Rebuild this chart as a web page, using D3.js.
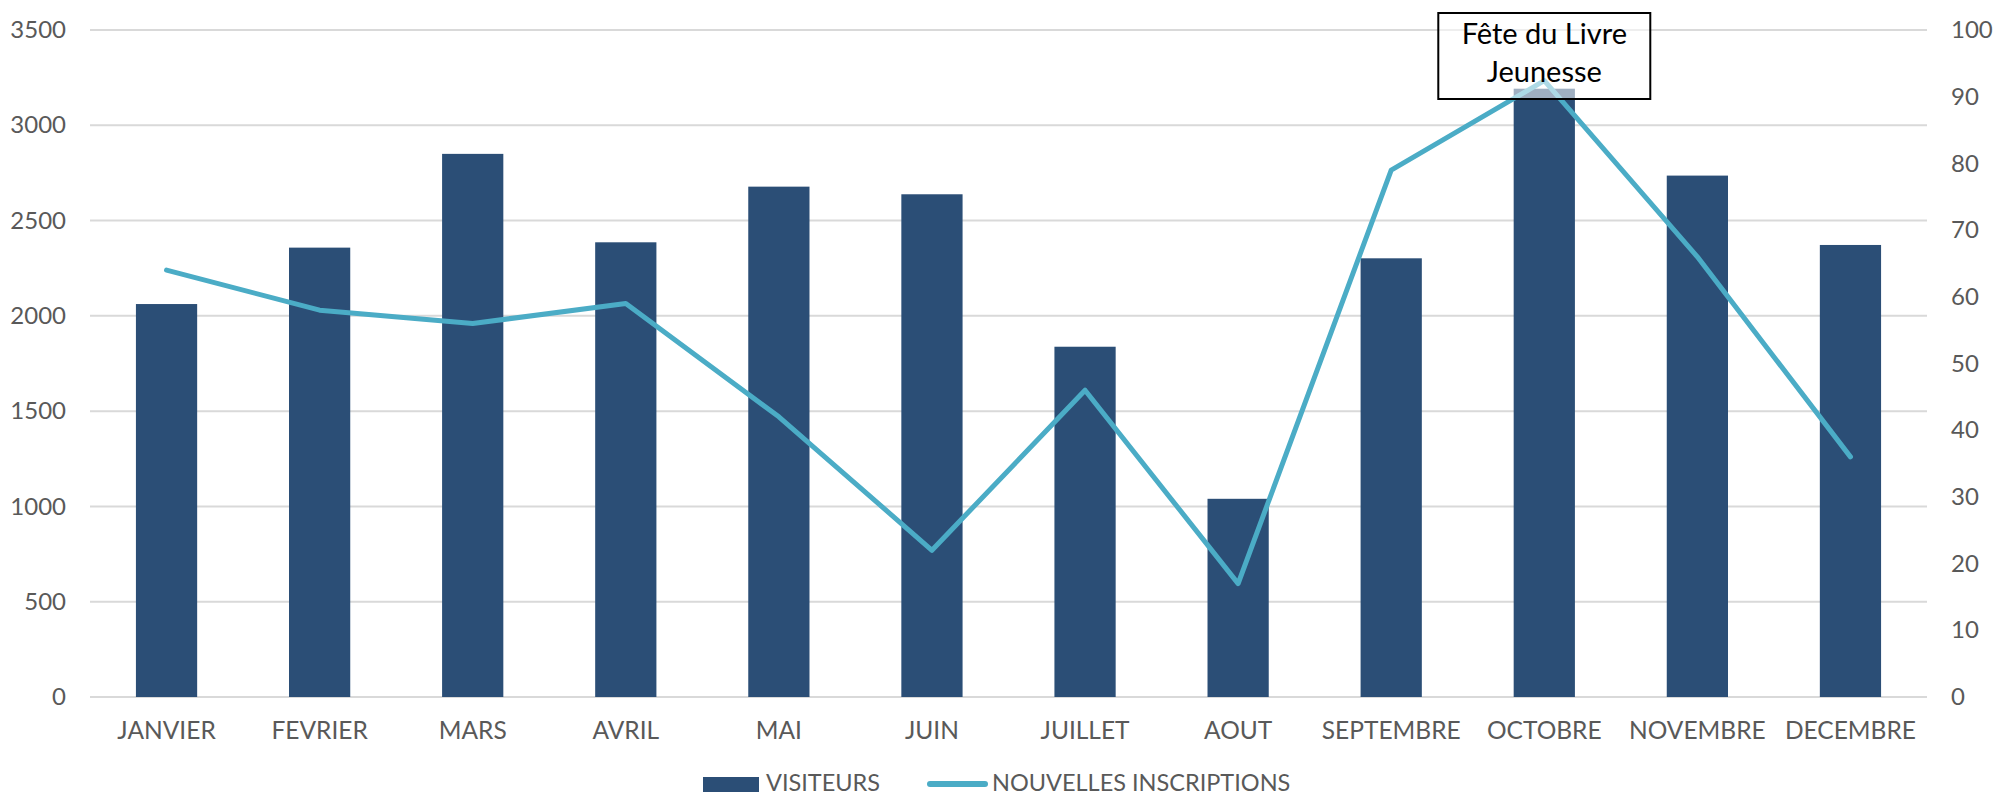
<!DOCTYPE html>
<html><head><meta charset="utf-8">
<script src="https://cdn.jsdelivr.net/npm/d3@7"></script>
<style>
html,body{margin:0;padding:0;background:#fff;}
svg{display:block;}
text{font-family:Lato, "Open Sans", sans-serif;}
</style></head>
<body>
<svg id="chart" width="1995" height="796"></svg>
<script>
const months = ["JANVIER","FEVRIER","MARS","AVRIL","MAI","JUIN","JUILLET","AOUT","SEPTEMBRE","OCTOBRE","NOVEMBRE","DECEMBRE"];
const visiteurs = [2062, 2358, 2850, 2386, 2678, 2638, 1838, 1040, 2302, 3192, 2736, 2372];
const inscriptions = [64, 58, 56, 59, 42, 22, 46, 17, 79, 92.4, 66, 36];
const leftTicks = [0, 500, 1000, 1500, 2000, 2500, 3000, 3500];
const rightTicks = [0, 10, 20, 30, 40, 50, 60, 70, 80, 90, 100];
const seriesNames = ["VISITEURS", "NOUVELLES INSCRIPTIONS"];
const annotationLines = ["Fête du Livre", "Jeunesse"];
const annotationMonth = "OCTOBRE";

const barColor = "#2B4E76", lineColor = "#4BACC6", textColor = "#595959";
const svg = d3.select("#chart");
const pLeft = 90, pRight = 1927, pTop = 30, pBottom = 697;

const x = d3.scaleBand().domain(months).range([pLeft, pRight]).paddingInner(0.6).paddingOuter(0.3);
const yL = d3.scaleLinear().domain([0, 3500]).range([pBottom, pTop]);
const yR = d3.scaleLinear().domain([0, 100]).range([pBottom, pTop]);

// gridlines
svg.append("g").selectAll("line").data(leftTicks).join("line")
  .attr("x1", pLeft).attr("x2", pRight)
  .attr("y1", d => yL(d)).attr("y2", d => yL(d))
  .attr("stroke", "#D9D9D9").attr("stroke-width", 2);

// left axis
const axL = svg.append("g").attr("transform", `translate(${pLeft - 24},0)`)
  .call(d3.axisLeft(yL).tickValues(leftTicks).tickFormat(d3.format("d")).tickSize(0).tickPadding(0));
axL.select(".domain").remove();
axL.selectAll("text").attr("fill", textColor).style("font-size", "24px").style("font-family", "Lato");

// right axis
const axR = svg.append("g").attr("transform", `translate(${pRight + 24},0)`)
  .call(d3.axisRight(yR).tickValues(rightTicks).tickFormat(d3.format("d")).tickSize(0).tickPadding(0));
axR.select(".domain").remove();
axR.selectAll("text").attr("fill", textColor).style("font-size", "24px").style("font-family", "Lato");

// bars
svg.append("g").selectAll("rect").data(months).join("rect")
  .attr("x", d => x(d)).attr("width", x.bandwidth())
  .attr("y", (d, i) => yL(visiteurs[i]))
  .attr("height", (d, i) => yL(0) - yL(visiteurs[i]))
  .attr("fill", barColor);

// line
const line = d3.line().x((d, i) => x(months[i]) + x.bandwidth() / 2).y(d => yR(d));
svg.append("path").datum(inscriptions).attr("d", line)
  .attr("fill", "none").attr("stroke", lineColor).attr("stroke-width", 5)
  .attr("stroke-linejoin", "round").attr("stroke-linecap", "round");

// x axis labels
const axX = svg.append("g").attr("transform", `translate(0,${pBottom})`)
  .call(d3.axisBottom(x).tickSize(0).tickPadding(0));
axX.select(".domain").remove();
axX.selectAll("text").attr("fill", textColor).style("font-size", "24.5px").style("font-family", "Lato")
  .attr("dy", null).attr("y", 42);

// annotation
const ax = x(annotationMonth) + x.bandwidth() / 2;
const ann = svg.append("g");
ann.append("rect").attr("x", ax - 106).attr("y", 13).attr("width", 212).attr("height", 86)
  .attr("fill", "#fff").attr("fill-opacity", 0.55).attr("stroke", "#000").attr("stroke-width", 2);
ann.selectAll("text").data(annotationLines).join("text")
  .attr("x", ax).attr("y", (d, i) => 44 + i * 37.5)
  .attr("text-anchor", "middle").attr("fill", "#000").style("font-size", "29px")
  .text(d => d);

// legend
const lg = svg.append("g");
lg.append("rect").attr("x", 703).attr("y", 777).attr("width", 56).attr("height", 15).attr("fill", barColor);
lg.append("text").attr("x", 766).attr("y", 791).attr("fill", textColor).style("font-size", "23.5px").text(seriesNames[0]);
lg.append("line").attr("x1", 930).attr("x2", 985).attr("y1", 784).attr("y2", 784)
  .attr("stroke", lineColor).attr("stroke-width", 6).attr("stroke-linecap", "round");
lg.append("text").attr("x", 992).attr("y", 791).attr("fill", textColor).style("font-size", "23.5px").text(seriesNames[1]);
</script>
</body></html>
